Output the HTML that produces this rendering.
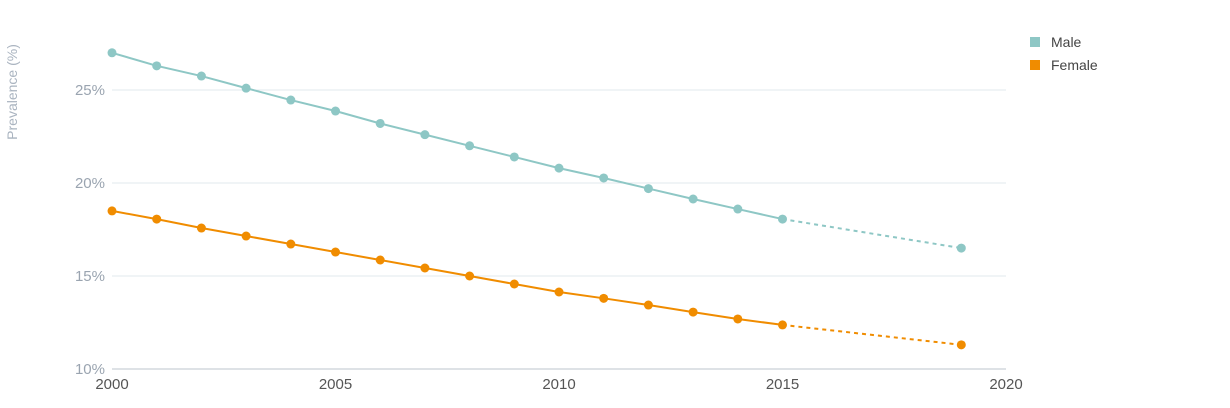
<!DOCTYPE html>
<html><head><meta charset="utf-8"><style>
body{margin:0;background:#fff;font-family:"Liberation Sans",sans-serif;}
svg text{font-family:"Liberation Sans",sans-serif;}
</style></head><body>
<svg id="chart" width="1230" height="403" xmlns="http://www.w3.org/2000/svg">
<text transform="translate(17,92) rotate(-90)" text-anchor="middle" font-size="14" fill="#aab4c0">Prevalence (%)</text>
<g id="grid"></g>
<g id="axes"></g>
<g id="series"></g>
<g>
<g><rect x="1030" y="37" width="10" height="10" fill="#8ec7c5"/><text x="1051" y="47" font-size="14" fill="#444">Male</text></g>
<g><rect x="1030" y="60" width="10" height="10" fill="#f08c00"/><text x="1051" y="70" font-size="14" fill="#444">Female</text></g>
</g>
</svg>
<script>
const years=[2000,2001,2002,2003,2004,2005,2006,2007,2008,2009,2010,2011,2012,2013,2014,2015,2019];
const maleVals=[27.0,26.3,25.75,25.1,24.46,23.87,23.2,22.6,22.0,21.4,20.8,20.27,19.7,19.14,18.6,18.06,16.5];
const femaleVals=[18.5,18.06,17.58,17.15,16.72,16.29,15.86,15.43,15.0,14.57,14.14,13.8,13.44,13.06,12.69,12.37,11.3];
const yTicks=[10,15,20,25];
const xTicks=[2000,2005,2010,2015,2020];
const NS="http://www.w3.org/2000/svg";
const x=v=>112+(v-2000)*(1006-112)/20;
const y=v=>369-(v-10)*18.6;
function mk(tag,attrs,parent){const e=document.createElementNS(NS,tag);for(const k in attrs)e.setAttribute(k,attrs[k]);parent.appendChild(e);return e;}
const grid=document.getElementById('grid'),axes=document.getElementById('axes'),series=document.getElementById('series');
yTicks.forEach(t=>{
 if(t>10){const l=mk('line',{x1:112,x2:1006,y1:y(t),y2:y(t),stroke:'#e1e8ec','stroke-width':1},grid);
 
 }
 const tx=mk('text',{x:105,y:y(t)+5,'text-anchor':'end','font-size':15,fill:'#9aa4b0'},axes);tx.textContent=t+'%';
 
 
});
const ax=mk('line',{x1:112,x2:1006,y1:369,y2:369,stroke:'#bcc4cc','stroke-width':1},axes);


xTicks.forEach(t=>{
 const tx=mk('text',{x:x(t),y:389,'text-anchor':'middle','font-size':15,fill:'#555'},axes);tx.textContent=t;
 
 
});
function draw(vals,color,name){
 const n=vals.length;
 let d='';for(let i=0;i<n-1;i++)d+=(i?'L':'M')+x(years[i])+','+y(vals[i]);
 const p=mk('path',{d:d,fill:'none',stroke:color,'stroke-width':2},series);
 
 
 const dl=mk('line',{x1:x(years[n-2]),y1:y(vals[n-2]),x2:x(years[n-1]),y2:y(vals[n-1]),stroke:color,'stroke-width':2,'stroke-dasharray':'4,4'},series);
 
 
 vals.forEach((v,i)=>{const c=mk('circle',{cx:x(years[i]),cy:y(v),r:4.5,fill:color},series);
 
 });
}
draw(maleVals,'#8ec7c5','male');
draw(femaleVals,'#f08c00','female');
</script>
</body></html>
